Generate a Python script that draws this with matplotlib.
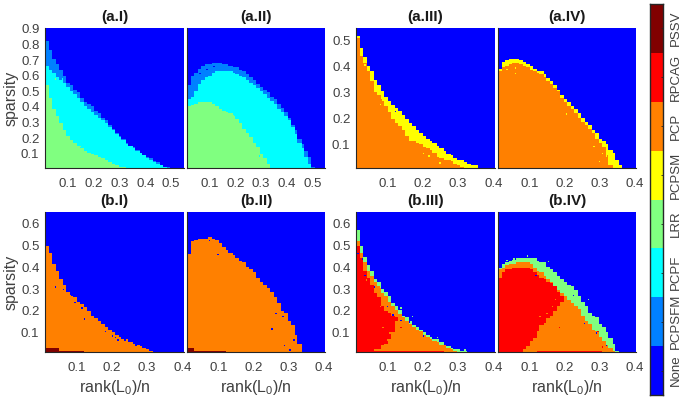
import numpy as np
import matplotlib
matplotlib.use("Agg")
import matplotlib.pyplot as plt
from matplotlib.colors import ListedColormap, BoundaryNorm

plt.rcParams['font.family'] = ['Liberation Sans', 'DejaVu Sans']
plt.rcParams['mathtext.default'] = 'regular'

methods = ['None', 'PCPSFM', 'PCPF', 'LRR', 'PCPSM', 'PCP', 'RPCAG', 'PSSV']
colors = ['#0000ff', '#0080ff', '#00ffff', '#80ff80', '#ffff00', '#ff8000', '#ff0000', '#800000']
NONE, PCPSFM, PCPF, LRR, PCPSM, PCP, RPCAG, PSSV = range(8)

# top of each region, one value per block of columns
a1_sfm = [.82,.765,.71,.675,.64,.605,.56,.535,.515,.49,.46,.435,.42,.40,.38,.36,.335,.31,.285,.26,
          .235,.215,.195,.175,.155,.145,.13,.11,.095,.08,.07,.055,.045,.03,.02,.015]
a1_pcpf = [.66,.64,.615,.595,.575,.555,.53,.505,.485,.46,.43,.405,.39,.37,.35,.335,.315,.295,.27,.25,
           .225,.205,.185,.165,.15,.135,.12,.105,.09,.075,.065,.05,.04,.03,.02,.012]
a1_lrr = [.54,.46,.385,.345,.30,.25,.215,.19,.17,.15,.135,.12,.11,.10,.09,.08,.07,.06,.05,.04,.03,.02,.015,.012]

a2_sfm = [.54,.60,.62,.645,.66,.67,.675,.68,.68,.68,.675,.67,.665,.655,.65,.64,.625,.61,.595,.575,
          .55,.53,.515,.495,.47,.445,.42,.395,.37,.335,.29,.25,.195,.16,.115,.08,.02]
a2_pcpf = [.45,.465,.50,.55,.57,.59,.605,.615,.625,.63,.63,.63,.625,.62,.61,.60,.59,.575,.56,.54,
           .52,.50,.48,.46,.44,.42,.39,.365,.34,.31,.27,.225,.175,.135,.085,.04]
a2_lrr = [.405,.41,.42,.43,.435,.435,.43,.42,.405,.39,.38,.37,.355,.34,.32,.30,.26,.235,.21,.17,.14,.10,.07,.04,.012]

a3_psm = [.52,.475,.435,.405,.38,.35,.33,.305,.285,.27,.255,.24,.23,.215,.20,.185,.17,.155,.145,.135,
          .125,.115,.105,.095,.085,.075,.065,.06,.05,.045,.04,.03,.025,.02,.02,.012]
a3_pcp = [.51,.44,.415,.38,.345,.30,.29,.275,.25,.225,.20,.185,.17,.155,.135,.115,.11,.105,.10,.09,
          .085,.08,.07,.055,.05,.045,.04,.035,.025,.02,.015]

a4_psm = [.395,.42,.425,.43,.43,.43,.425,.42,.41,.405,.395,.385,.38,.37,.355,.345,.33,.315,.29,.277,
          .265,.25,.235,.22,.205,.19,.175,.158,.145,.125,.11,.10,.08,.068,.045,.02]
a4_pcp = [.38,.40,.405,.41,.415,.415,.41,.405,.40,.39,.385,.375,.37,.36,.345,.335,.32,.305,.28,.265,
          .25,.235,.22,.205,.19,.175,.16,.145,.125,.105,.09,.06,.02]

b1_pcp = [.50,.47,.415,.385,.345,.32,.29,.275,.26,.245,.23,.215,.195,.18,.165,.15,.14,.125,.115,.10,
          .09,.08,.07,.065,.055,.05,.04,.035,.03,.02,.015,.012]
b1_pssv = [.028,.028,.028,.028,.018,.018,.018,.018,.018,.018,.018]

b2_pcp = [.46,.52,.525,.53,.535,.535,.54,.535,.525,.51,.495,.48,.47,.455,.44,.43,.42,.405,.39,.375,
          .355,.335,.32,.305,.29,.26,.235,.20,.19,.155,.13,.09,.05]
b2_pssv = [.028,.028,.018,.018,.018,.018,.018,.018,.018,.018,.018]

b3_lrr = [.57,.50,.45,.41,.385,.345,.33,.30,.285,.265,.235,.22,.205,.18,.17,.15,.135,.125,.115,.10,
          .085,.08,.07,.065,.055,.045,.035,.03,.025,.02,.015,.015,.012]
b3_pcp = [.52,.47,.42,.385,.36,.33,.31,.28,.265,.24,.22,.205,.185,.17,.155,.14,.125,.115,.105,.09,
          .08,.07,.06,.055,.045,.04,.03,.022,.015,.012]
b3_red = [.50,.44,.385,.35,.32,.28,.26,.22,.20,.19,.18,.17]
b3_red_low = [0,0,0,0,0,.02,.025,.04,.05,.07,.10,.15]
b3_strip = [.017] * 25

b4_lrr = [.40,.415,.425,.43,.435,.44,.44,.445,.445,.44,.44,.43,.425,.42,.405,.39,.375,.36,.345,.33,
          .32,.31,.295,.265,.245,.225,.19,.18,.17,.14,.125,.10,.075,.05,.015]
b4_pcp = [.39,.40,.41,.415,.415,.42,.42,.42,.42,.415,.40,.385,.375,.36,.345,.33,.315,.295,.28,.265,
          .25,.235,.22,.21,.175,.155,.14,.115,.105,.08,.06,.045,.03,.015]
b4_red = [.355,.375,.388,.39,.395,.395,.395,.395,.395,.39,.38,.365,.355,.345,.335,.325,.31,.29,.27,.25]
b4_red_low = [0,0,0,0,0,0,0,.02,.035,.06,.075,.105,.13,.145,.165,.18,.20,.22,.24,.25]
b4_strip = [0,0,0,0,0,0,0,0,0,0,0,.017,.017,.017,.017,.017,.017,.017,.017,.017,.017,.017,.017,.017,.017,.017,.017,.017,.017,.017]

# single stray cells: (rank, sparsity, method)
a1_stray = [(.101,.234,PCPF),(.114,.18,LRR),(.147,.148,LRR),(.199,.085,LRR),(.225,.063,LRR),(.049,.35,LRR),
            (.023,.649,PCPF),(.049,.574,LRR),(.08,.574,PCPF)]
a2_stray = [(.061,.617,NONE),(.087,.638,NONE),(.113,.66,NONE),(.217,.34,PCPF),(.256,.212,PCPF),(.295,.085,PCPF),
            (.191,.35,LRR)]
a3_stray = [(.036,.409,PCPSM),(.045,.396,PCPSM),(.055,.364,PCPSM),(.064,.328,PCPSM),(.083,.286,PCPSM),
            (.088,.274,PCPSM),(.078,.254,PCPSM),(.107,.235,PCPSM),(.116,.209,PCPSM),(.14,.177,PCPSM),
            (.15,.158,PCPSM),(.159,.145,PCPSM),(.178,.126,PCPSM),(.202,.068,PCPSM),(.216,.055,PCPSM),
            (.249,.029,PCPSM),(.121,.229,NONE)]
a4_stray = [(.035,.389,PCPSM),(.06,.374,PCPSM),(.06,.396,PCPSM),(.206,.218,PCPSM),(.272,.173,PCPSM),
            (.286,.094,PCPSM),(.301,.036,PCPSM),(.31,.068,PCPSM),(.32,.055,PCPSM)]
b1_stray = [(.039,.313,NONE),(.062,.295,NONE),(.086,.272,NONE),(.096,.241,NONE),(.115,.21,NONE),(.124,.159,NONE),
            (.157,.172,NONE),(.181,.102,NONE),(.2,.087,NONE),(.21,.076,NONE),(.219,.067,NONE),(.238,.064,NONE),
            (.267,.038,NONE),(.012,.26,PSSV),(.012,.25,PSSV),(.012,.235,PSSV)]
b2_stray = [(.099,.457,NONE),(.077,.523,NONE),(.266,.187,NONE),(.251,.118,NONE),(.285,.172,NONE),(.289,.04,NONE),
            (.318,.064,NONE),(.304,.018,NONE),(.012,.26,PSSV),(.012,.25,PSSV),(.012,.23,PSSV)]
b3_stray = [(.017,.464,NONE),(.026,.441,NONE),(.036,.364,NONE),(.064,.307,NONE),(.097,.218,NONE),(.116,.179,NONE),
            (.14,.156,NONE),(.164,.149,NONE),(.202,.087,NONE),(.04,.341,PCP),(.078,.218,PCP),(.107,.095,PCP),
            (.097,.064,PCP),(.088,.126,PCP),(.14,.125,RPCAG),(.078,.307,LRR),(.102,.264,LRR),(.14,.21,LRR),
            (.169,.172,LRR),(.24,.079,LRR),(.32,.022,LRR)]
b4_stray = [(.12,.364,NONE),(.225,.272,NONE),(.258,.141,NONE),(.291,.095,NONE),(.32,.04,NONE),(.13,.172,PCP),
            (.149,.187,PCP),(.168,.218,PCP),(.13,.095,PCP),(.111,.064,PCP),(.172,.249,PCP),(.187,.125,RPCAG),
            (.296,.102,RPCAG),(.31,.033,RPCAG),(.035,.434,LRR),(.054,.437,LRR),(.077,.441,LRR),(.096,.455,LRR),
            (.153,.426,LRR),(.225,.303,LRR),(.267,.249,LRR),(.31,.118,LRR),(.329,.064,LRR)]

x_wide = (0.01, 0.55)
x_narrow = (0.01, 0.405)
y_a1 = (0.01, 0.905)
y_a3 = (0.01, 0.55)
y_b = (0.01, 0.655)
ticks_wide = [.1, .2, .3, .4, .5]
ticks_narrow = [.1, .2, .3, .4]

BLOCKS = 40
CELLS = 100
W, H = 691, 400


def build_grid(xlim, ylim, layers, stray):
    xe = np.linspace(xlim[0], xlim[1], CELLS + 1)
    ye = np.linspace(ylim[0], ylim[1], CELLS + 1)
    yc = (ye[:-1] + ye[1:]) / 2
    grid = np.zeros((CELLS, CELLS))
    for code, top, low in layers:
        for ix in range(CELLS):
            b = ix * BLOCKS // CELLS
            if b < len(top):
                bottom = low[b] if low is not None and b < len(low) else 0
                grid[(yc <= top[b]) & (yc >= bottom), ix] = code
    for r, s, code in stray:
        ix = min(np.searchsorted(xe, r) - 1, CELLS - 1)
        iy = min(np.searchsorted(ye, s) - 1, CELLS - 1)
        grid[iy, ix] = code
    return xe, ye, grid


cmap = ListedColormap(colors)
norm = BoundaryNorm(np.arange(-0.5, 8.5), 8)
fig = plt.figure(figsize=(W / 100, H / 100), dpi=100)


def panel(x0, x1, y0, y1, title, xlim, ylim, xticks, yticks, layers, stray, ylabel=False, xlabel=False):
    ax = fig.add_axes([x0 / W, 1 - y1 / H, (x1 - x0) / W, (y1 - y0) / H])
    xe, ye, grid = build_grid(xlim, ylim, layers, stray)
    ax.pcolormesh(xe, ye, grid, cmap=cmap, norm=norm, shading='flat', antialiased=False)
    ax.set_xlim(xlim)
    ax.set_ylim(ylim)
    ax.set_xticks(xticks)
    ax.set_xticklabels(['%.1f' % t for t in xticks])
    if yticks:
        ax.set_yticks(yticks)
        ax.set_yticklabels(['%.1f' % t for t in yticks])
    else:
        ax.set_yticks([])
    ax.tick_params(length=0, labelsize=9.5, labelcolor='#404040')
    ax.tick_params(axis='x', pad=7)
    ax.tick_params(axis='y', pad=4)
    ax.spines['top'].set_visible(False)
    ax.spines['right'].set_visible(False)
    ax.spines['left'].set_color('#262626')
    ax.spines['bottom'].set_color('#262626')
    ax.set_title(title, fontsize=11, fontweight='bold', pad=5, color='#1a1a1a')
    if ylabel:
        ax.set_ylabel('sparsity', fontsize=11.5, color='#404040', labelpad=2)
    if xlabel:
        ax.set_xlabel('rank(L$_0$)/n', fontsize=11.5, color='#404040', labelpad=3)


y_ticks_a1 = [.1, .2, .3, .4, .5, .6, .7, .8, .9]
y_ticks_a3 = [.1, .2, .3, .4, .5]
y_ticks_b = [.1, .2, .3, .4, .5, .6]

panel(45, 184, 28, 168, '(a.I)', x_wide, y_a1, ticks_wide, y_ticks_a1,
      [(PCPSFM, a1_sfm, None), (PCPF, a1_pcpf, None), (LRR, a1_lrr, None)], a1_stray, ylabel=True)
panel(187, 325, 28, 168, '(a.II)', x_wide, y_a1, ticks_wide, None,
      [(PCPSFM, a2_sfm, None), (PCPF, a2_pcpf, None), (LRR, a2_lrr, None)], a2_stray)
panel(356, 495, 28, 168, '(a.III)', x_narrow, y_a3, ticks_narrow, y_ticks_a3,
      [(PCPSM, a3_psm, None), (PCP, a3_pcp, None)], a3_stray)
panel(498, 636, 28, 168, '(a.IV)', x_narrow, y_a3, ticks_narrow, None,
      [(PCPSM, a4_psm, None), (PCP, a4_pcp, None)], a4_stray)
panel(45, 184, 212, 352, '(b.I)', x_narrow, y_b, ticks_narrow, y_ticks_b,
      [(PCP, b1_pcp, None), (PSSV, b1_pssv, None)], b1_stray, ylabel=True, xlabel=True)
panel(187, 325, 212, 352, '(b.II)', x_narrow, y_b, ticks_narrow, None,
      [(PCP, b2_pcp, None), (PSSV, b2_pssv, None)], b2_stray, xlabel=True)
panel(356, 495, 212, 352, '(b.III)', x_narrow, y_b, ticks_narrow, y_ticks_b,
      [(LRR, b3_lrr, None), (PCP, b3_pcp, None), (RPCAG, b3_red, b3_red_low), (RPCAG, b3_strip, None)],
      b3_stray, xlabel=True)
panel(498, 636, 212, 352, '(b.IV)', x_narrow, y_b, ticks_narrow, None,
      [(LRR, b4_lrr, None), (PCP, b4_pcp, None), (RPCAG, b4_red, b4_red_low), (RPCAG, b4_strip, None)],
      b4_stray, xlabel=True)

# colorbar with one box per method
cax = fig.add_axes([650 / W, 1 - 395 / H, 12.5 / W, 391 / H])
cax.pcolormesh([0, 1], np.arange(9) - 0.5, np.arange(8).reshape(-1, 1), cmap=cmap, norm=norm)
cax.set_xticks([])
cax.yaxis.tick_right()
cax.set_yticks(range(8))
cax.set_yticklabels(methods, rotation=90, va='center', ha='left', fontsize=9.5, color='#404040')
cax.tick_params(axis='y', direction='in', length=1.5, width=0.6, color='#262626', pad=5)
for s in cax.spines.values():
    s.set_color('#262626')
    s.set_linewidth(1)

fig.savefig('out.png', dpi=100)
